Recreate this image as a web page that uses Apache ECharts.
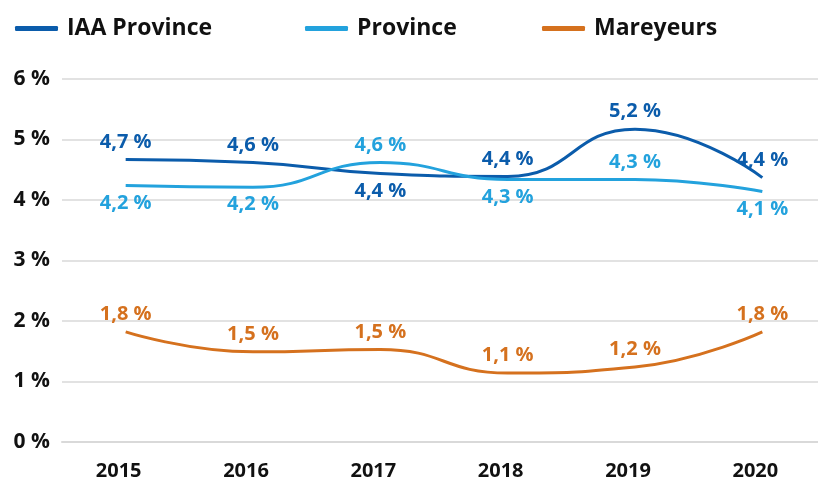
<!DOCTYPE html>
<html>
<head>
<meta charset="utf-8">
<script src="https://cdn.jsdelivr.net/npm/echarts@6/dist/echarts.min.js"></script>
<style>
  html, body { margin: 0; padding: 0; background: #fff; overflow: hidden; }
  #chart { width: 826px; height: 482px; }
</style>
</head>
<body>
<div id="chart"></div>
<script>
"use strict";
var years = ['2015', '2016', '2017', '2018', '2019', '2020'];
var iaaProvince = [4.67, 4.62, 4.44, 4.39, 5.17, 4.37];
var province = [4.24, 4.21, 4.62, 4.34, 4.34, 4.14];
var mareyeurs = [1.82, 1.49, 1.53, 1.14, 1.24, 1.82];
// label side per point (t = above, b = below)
var iaaSide = ['t', 't', 'b', 't', 't', 't'];
var provinceSide = ['b', 'b', 't', 'b', 't', 'b'];
var mareyeursSide = ['t', 't', 't', 't', 't', 't'];
var yTicks = [0, 1, 2, 3, 4, 5, 6];

var FONT = 'Open Sans';
var COLORS = {
    iaa: '#0b5cab',
    prov: '#23a2dd',
    mar: '#d5711e'
};

function fmt(v) {
    return v.toFixed(1).replace('.', ',') + ' %';
}

function buildData(values, sides) {
    var out = [];
    for (var i = 0; i < values.length; i++) {
        out.push({
            value: values[i],
            label: { position: sides[i] === 't' ? 'top' : 'bottom' }
        });
    }
    return out;
}

function makeSeries(name, values, sides, color) {
    return {
        name: name,
        type: 'line',
        smooth: 0.5,
        symbol: 'circle',
        symbolSize: 1,
        showSymbol: true,
        data: buildData(values, sides),
        lineStyle: { color: color, width: 3 },
        itemStyle: { color: 'transparent' },
        label: {
            show: true,
            distance: 7,
            color: color,
            fontFamily: FONT,
            fontWeight: 'bold',
            fontSize: 20,
            formatter: function (p) { return fmt(p.value); }
        },
        labelLayout: { hideOverlap: false }
    };
}

function makeLegend(name, color, left) {
    return {
        data: [{ name: name, itemStyle: { color: color } }],
        left: left,
        top: 12,
        icon: 'roundRect',
        itemWidth: 43,
        itemHeight: 5,
        textStyle: {
            color: '#111',
            fontFamily: FONT,
            fontWeight: 'bold',
            fontSize: 23,
            padding: [0, 0, 0, 4]
        }
    };
}

var chart = echarts.init(document.getElementById('chart'), null, { renderer: 'canvas' });
chart.setOption({
    animation: false,
    backgroundColor: '#fff',
    legend: [
        makeLegend('IAA Province', COLORS.iaa, 10),
        makeLegend('Province', COLORS.prov, 300),
        makeLegend('Mareyeurs', COLORS.mar, 537)
    ],
    grid: { left: 62, right: 0, top: 79, bottom: 40, containLabel: false },
    xAxis: {
        type: 'category',
        data: years,
        boundaryGap: true,
        axisLine: { show: true, lineStyle: { color: '#d9d9d9', width: 2 } },
        axisTick: { show: false },
        axisLabel: {
            color: '#111',
            fontFamily: FONT,
            fontWeight: 'bold',
            fontSize: 20,
            margin: 19,
            padding: [0, 14, 0, 0]
        }
    },
    yAxis: {
        type: 'value',
        min: yTicks[0],
        max: yTicks[yTicks.length - 1],
        interval: 1,
        axisLine: { show: false },
        axisTick: { show: false },
        splitLine: { lineStyle: { color: '#d9d9d9', width: 1.5 } },
        axisLabel: {
            color: '#111',
            fontFamily: FONT,
            fontWeight: 'bold',
            fontSize: 21,
            margin: 12,
            formatter: function (v) { return v + ' %'; }
        }
    },
    series: [
        makeSeries('IAA Province', iaaProvince, iaaSide, COLORS.iaa),
        makeSeries('Province', province, provinceSide, COLORS.prov),
        makeSeries('Mareyeurs', mareyeurs, mareyeursSide, COLORS.mar)
    ]
});
</script>
</body>
</html>
